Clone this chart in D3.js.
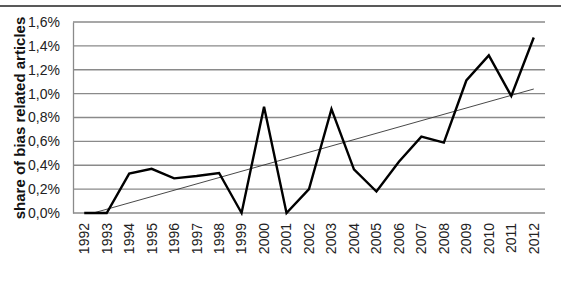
<!DOCTYPE html>
<html>
<head>
<meta charset="utf-8">
<script src="https://cdn.jsdelivr.net/npm/d3@7"></script>
<style>
  body { margin: 0; background: #fff; }
  text { font-family: "Liberation Sans", Arial, sans-serif; }
</style>
</head>
<body>
<div id="chart"></div>
<script>
// data
const years = ["1992","1993","1994","1995","1996","1997","1998","1999","2000","2001","2002",
               "2003","2004","2005","2006","2007","2008","2009","2010","2011","2012"];
const shares = [0, 0, 0.33, 0.37, 0.29, 0.31, 0.335, 0, 0.89, 0, 0.20,
                0.87, 0.366, 0.18, 0.43, 0.64, 0.59, 1.11, 1.32, 0.98, 1.47];
const yTicks = [0, 0.2, 0.4, 0.6, 0.8, 1.0, 1.2, 1.4, 1.6];

const w = 561, h = 287;
const plotLeft = 73, plotRight = 545, plotTop = 22, plotBottom = 213;

const svg = d3.select("#chart").append("svg")
    .attr("width", w)
    .attr("height", h);

// top rule
svg.append("line")
    .attr("x1", 0).attr("x2", w)
    .attr("y1", 6).attr("y2", 6)
    .attr("stroke", "#222").attr("stroke-width", 1.5);

const x = d3.scaleBand().domain(years).range([plotLeft, plotRight]);
const y = d3.scaleLinear().domain([0, 1.6]).range([plotBottom, plotTop]);
const cx = d => x(d) + x.bandwidth() / 2;

// grid
svg.append("g").selectAll("line")
    .data(yTicks)
    .join("line")
    .attr("x1", plotLeft).attr("x2", plotRight)
    .attr("y1", d => y(d)).attr("y2", d => y(d))
    .attr("stroke", "#8a8a8a").attr("stroke-width", 1.3);

// y axis
const fmt = d => d3.format(".1f")(d).replace(".", ",") + "%";
const yAxis = svg.append("g")
    .attr("transform", `translate(${plotLeft},0)`)
    .call(d3.axisLeft(y).tickValues(yTicks).tickFormat(fmt).tickSize(0).tickPadding(13));
yAxis.select(".domain").attr("stroke", "#8a8a8a").attr("stroke-width", 1.3);
yAxis.selectAll("text").attr("font-size", 14).attr("fill", "#222")
    .attr("font-family", "Liberation Sans, Arial, sans-serif");

// x axis labels
const xAxis = svg.append("g")
    .attr("transform", `translate(0,${plotBottom})`)
    .call(d3.axisBottom(x).tickSize(0));
xAxis.select(".domain").remove();
xAxis.selectAll("text")
    .attr("font-size", 14).attr("fill", "#222")
    .attr("font-family", "Liberation Sans, Arial, sans-serif")
    .attr("transform", "rotate(-90)")
    .attr("text-anchor", "end")
    .attr("x", -10).attr("y", 0).attr("dy", "0.35em");

// axis title
svg.append("text")
    .attr("transform", `translate(25,${(plotTop + plotBottom) / 2 + 0.5}) rotate(-90)`)
    .attr("text-anchor", "middle")
    .attr("font-size", 15).attr("font-weight", "bold")
    .attr("fill", "#111")
    .text("share of bias related articles");

// linear trend (least squares over the series)
const n = shares.length;
const xm = d3.mean(d3.range(n)), ym = d3.mean(shares);
const slope = d3.sum(shares, (v, i) => (i - xm) * v) / d3.sum(d3.range(n), i => (i - xm) ** 2);
const icpt = ym - slope * xm;

svg.append("clipPath").attr("id", "plot")
  .append("rect").attr("x", plotLeft).attr("y", plotTop)
  .attr("width", plotRight - plotLeft).attr("height", plotBottom - plotTop);

svg.append("line")
    .attr("clip-path", "url(#plot)")
    .attr("x1", cx(years[0])).attr("y1", y(icpt))
    .attr("x2", cx(years[n - 1])).attr("y2", y(icpt + slope * (n - 1)))
    .attr("stroke", "#333").attr("stroke-width", 0.9);

// data line
svg.append("path")
    .datum(shares)
    .attr("fill", "none")
    .attr("stroke", "#000")
    .attr("stroke-width", 2.4)
    .attr("stroke-linejoin", "miter")
    .attr("d", d3.line().x((d, i) => cx(years[i])).y(d => y(d)));
</script>
</body>
</html>
